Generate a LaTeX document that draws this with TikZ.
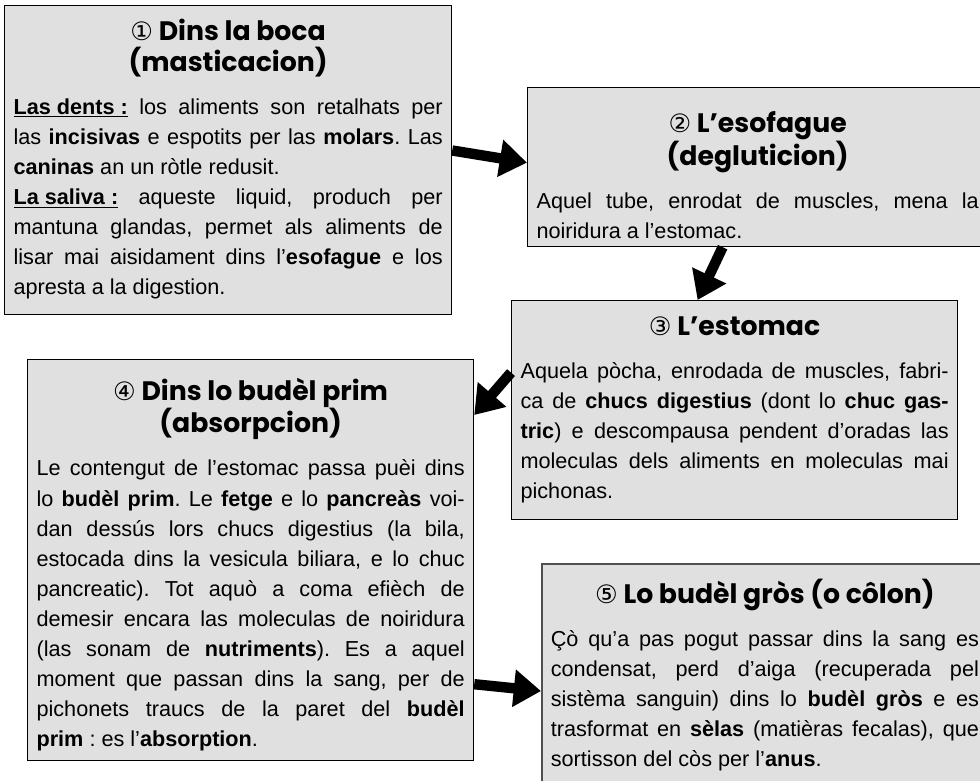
\documentclass[tikz,border=0pt]{standalone}
\usepackage{fontspec}
\setmainfont{Liberation Sans}
\newfontfamily\titlefamily{Poppins}
\newfontfamily\circfamily{DejaVu Sans}
\usetikzlibrary{arrows.meta}

\definecolor{boxgray}{RGB}{224,224,224}
\definecolor{edgegray}{RGB}{80,80,80}

\newcommand{\stagenum}[1]{{\circfamily\mdseries\fontsize{18pt}{18pt}\selectfont #1}}
\newcommand{\stagetitle}[1]{{\centering\titlefamily\bfseries\fontsize{19pt}{22.05pt}\selectfont #1\par}\vspace{0.325cm}}
\newcommand{\bodysize}{\fontsize{15.4pt}{21.34pt}\selectfont\frenchspacing\hyphenpenalty=10000\tolerance=9999}

\tikzset{
	stage/.style={draw, fill=boxgray, anchor=north west, align=justify, inner xsep=0.225cm, inner ysep=0pt, line width=0.8pt, font=\bodysize},
	bigarrow/.style={line width=0.26cm, -{Triangle[length=0.68cm, width=0.9cm]}}
}

\begin{document}
\begin{tikzpicture}[x=0.025cm, y=-0.025cm]
		
		\useasboundingbox (0, 0) rectangle (980, 781);
		\clip (0, 0) rectangle (980, 781);
		
		\node [stage, text width=10.725cm, text height=0.875cm, text depth=6.85cm] (boca) at (4, 5) {%
			\stagetitle{\stagenum{①} Dins la boca\par (masticacion)}%
			\underline{\textbf{Las dents :}} los aliments son retalhats per\linebreak
			las \textbf{incisivas} e espotits per las \textbf{molars}. Las\linebreak
			\textbf{caninas} an un ròtle redusit.\par
			\underline{\textbf{La saliva :}} aqueste liquid, produch per\linebreak
			mantuna glandas, permet als aliments de\linebreak
			lisar mai aisidament dins l’\textbf{esofague} e los\linebreak
			apresta a la digestion.};
		
		\node [stage, text width=11.05cm, text height=1.1125cm, text depth=2.8625cm] (esofague) at (527, 87) {%
			\stagetitle{\stagenum{②} L’esofague\par (degluticion)}%
			Aquel tube, enrodat de muscles, mena la\linebreak
			noiridura a l’estomac.};
		
		\node [stage, text width=10.7cm, text height=0.8625cm, text depth=4.6125cm] (estomac) at (511, 300) {%
			\stagetitle{\stagenum{③} L’estomac}%
			Aquela pòcha, enrodada de muscles, fabri-\linebreak
			ca de \textbf{chucs digestius} (dont lo \textbf{chuc gas-}\linebreak
			\textbf{tric}) e descompausa pendent d’oradas las\linebreak
			moleculas dels aliments en moleculas mai\linebreak
			pichonas.};
		
		\node [stage, text width=10.7cm, text height=1.0125cm, text depth=9.0125cm] (budelprim) at (27, 359) {%
			\stagetitle{\stagenum{④} Dins lo budèl prim\par (absorpcion)}%
			Le contengut de l’estomac passa puèi dins\linebreak
			lo \textbf{budèl prim}. Le \textbf{fetge} e lo \textbf{pancreàs} voi-\linebreak
			dan dessús lors chucs digestius (la bila,\linebreak
			estocada dins la vesicula biliara, e lo chuc\linebreak
			pancreatic). Tot aquò a coma efièch de\linebreak
			demesir encara las moleculas de noiridura\linebreak
			(las sonam de \textbf{nutriments}). Es a aquel\linebreak
			moment que passan dins la sang, per de\linebreak
			pichonets traucs de la paret del \textbf{budèl}\linebreak
			\textbf{prim} : es l’\textbf{absorption}.};
		
		\node [stage, draw=edgegray, line width=1.2pt, text width=10.7cm, text height=0.9875cm, text depth=4.7625cm] (budelgros) at (541, 563) {%
			\stagetitle{\stagenum{⑤} Lo budèl gròs (o côlon)}%
			Çò qu’a pas pogut passar dins la sang es\linebreak
			condensat, perd d’aiga (recuperada pel\linebreak
			sistèma sanguin) dins lo \textbf{budèl gròs} e es\linebreak
			trasformat en \textbf{sèlas} (matièras fecalas), que\linebreak
			sortisson del còs per l’\textbf{anus}.};
		
		%\draw [bigarrow] (boca) -- (esofague);
		\draw [bigarrow] ([yshift=0.24cm]boca.east) -- ([yshift=0.11cm]esofague.west);
		\draw [bigarrow] ([xshift=-0.875cm]esofague.south) -- ([xshift=-0.925cm]estomac.north);
		\draw [bigarrow] ([yshift=0.9375cm]estomac.west) -- ([yshift=-1.4cm]budelprim.north east);
		\draw [bigarrow] ([yshift=1.925cm]budelprim.south east) -- ([yshift=-3.2cm]budelgros.north west);
		
\end{tikzpicture}
\end{document}
